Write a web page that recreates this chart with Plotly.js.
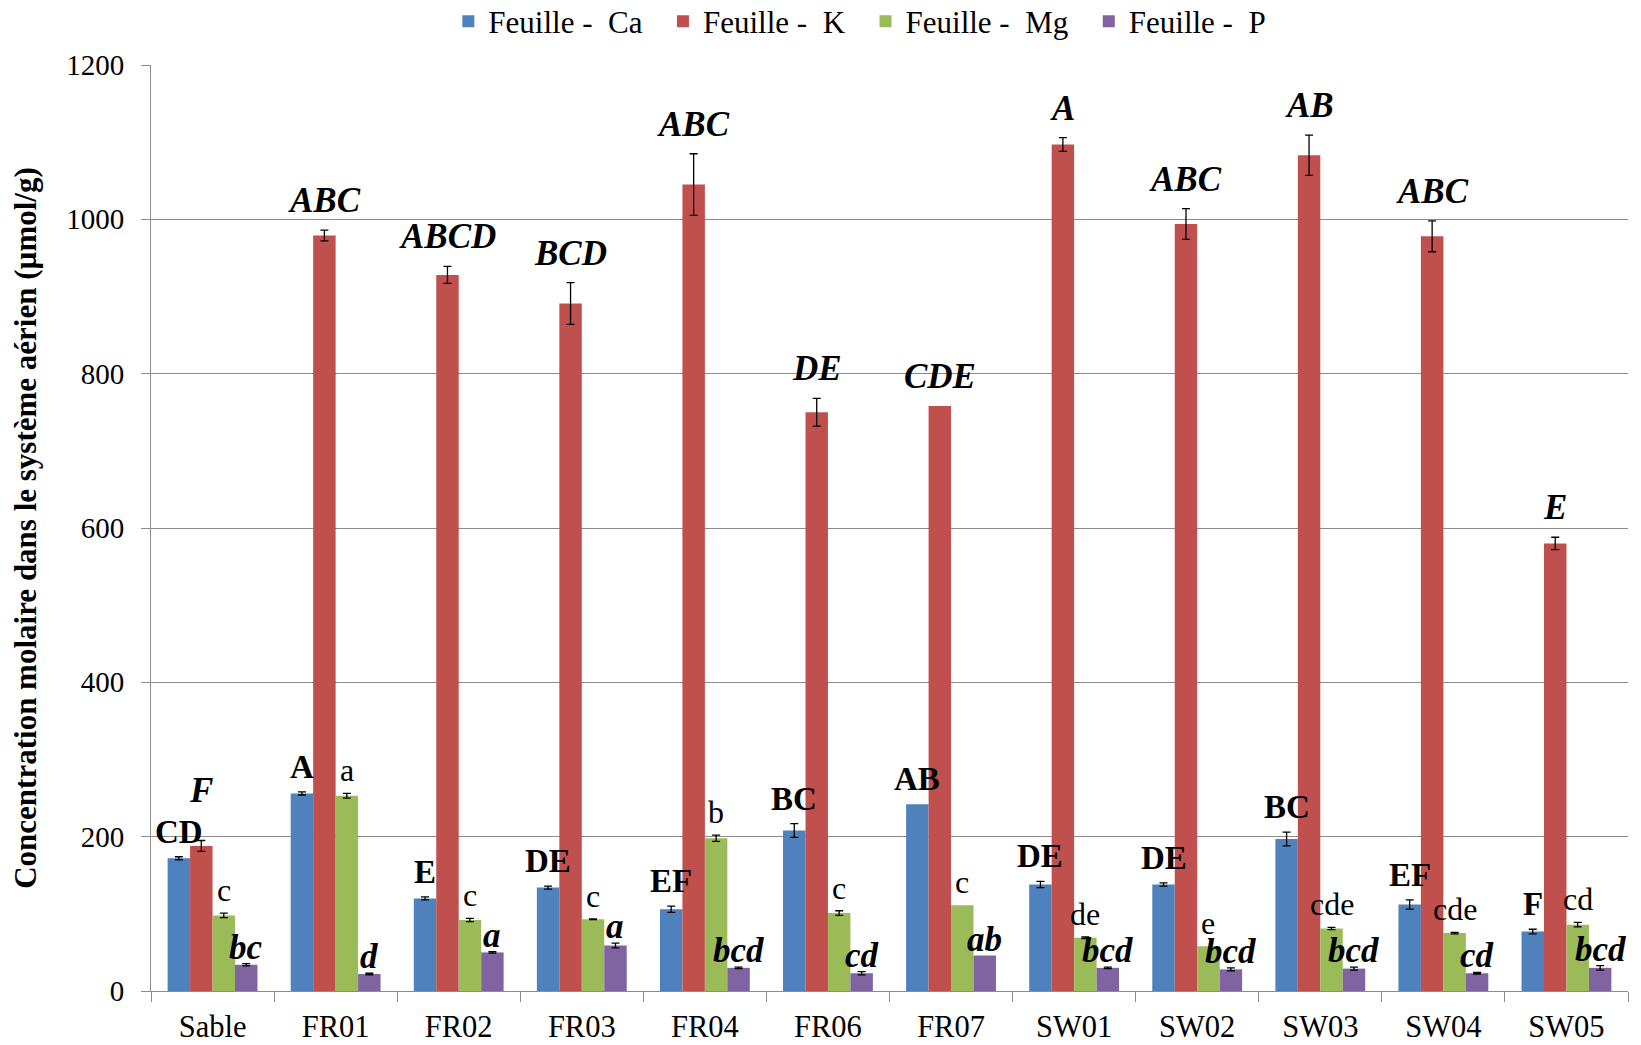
<!DOCTYPE html>
<html>
<head>
<meta charset="utf-8">
<script src="https://cdn.plot.ly/plotly-3.0.1.min.js"></script>
<style>html,body{margin:0;padding:0;background:#fff;}#chart{width:1641px;height:1045px;}</style>
</head>
<body>
<div id="chart"></div>
<script>
const categories = ['Sable','FR01','FR02','FR03','FR04','FR06','FR07','SW01','SW02','SW03','SW04','SW05'];

const caValues = [172, 256, 120, 134, 106, 208, 242, 138, 138, 197, 112, 77];
const caErrors = [2, 2, 2, 2, 4, 9, null, 4, 2, 9, 6, 3];
const caLetters = ['CD','A','E','DE','EF','BC','AB','DE','DE','BC','EF','F'];

const kValues = [188, 979, 928, 891, 1045, 750, 758, 1097, 994, 1083, 978, 580];
const kErrors = [7, 7, 11, 27, 40, 18, null, 9, 20, 26, 20, 8];
const kLetters = ['F','ABC','ABCD','BCD','ABC','DE','CDE','A','ABC','AB','ABC','E'];

const mgValues = [98, 253, 92, 93, 198, 101, 111, 69, 58, 81, 75, 86];
const mgErrors = [3, 3, 2, 0.5, 4, 3, null, 1, null, 1.5, 1, 3];
const mgLetters = ['c','a','c','c','b','c','c','de','e','cde','cde','cd'];

const pValues = [34, 22, 50, 59, 30, 23, 46, 30, 28, 29, 23, 30];
const pErrors = [1.5, 1, 1, 3, 1, 2, null, 1, 2, 2, 1, 3];
const pLetters = ['bc','d','a','a','bcd','cd','ab','bcd','bcd','bcd','cd','bcd'];

const seriesNames = ['Feuille - \u00a0Ca', 'Feuille - \u00a0K', 'Feuille - \u00a0Mg', 'Feuille - \u00a0P'];

const FONT = '"Liberation Serif", "Times New Roman", serif';
const W = 1641, H = 1045;
const M = {l: 151, r: 13, t: 65, b: 54, autoexpand: false};
const BARGAP = 0.27;
const YMAX = 1200;

const series = [
  {name: seriesNames[0], v: caValues, e: caErrors, lab: caLetters, color: '#4F81BD', wrap: s => '<b>' + s + '</b>', size: 33, dy: 5},
  {name: seriesNames[1], v: kValues, e: kErrors, lab: kLetters, color: '#C0504D', wrap: s => '<b><i>' + s + '</i></b>', size: 35, dy: 8, clearOf: 0},
  {name: seriesNames[2], v: mgValues, e: mgErrors, lab: mgLetters, color: '#9BBB59', wrap: s => s, size: 32, dy: 3},
  {name: seriesNames[3], v: pValues, e: pErrors, lab: pLetters, color: '#8064A2', wrap: s => '<b><i>' + s + '</i></b>', size: 35, dy: -5}
];

const traces = series.map(s => ({
  type: 'bar',
  name: s.name + '\u00a0\u00a0',
  x: categories,
  y: s.v,
  marker: {color: s.color, line: {width: 0}},
  error_y: {type: 'data', array: s.e.map(v => v == null ? NaN : v), visible: true, color: '#000', thickness: 1.3, width: 4}
}));

const plotW = W - M.l - M.r;
const plotH = H - M.t - M.b;
const catW = plotW / categories.length;
const barW = (1 - BARGAP) * catW / series.length;
const yPix = v => M.t + plotH * (1 - v / YMAX);

// label boxes (approximate pixel boxes) to let a label clear a neighbour it would collide with
function labelBox(s, k, i, extra) {
  const top = s.v[i] + (s.e[i] || 0);
  const bottom = yPix(top) - s.dy - (extra || 0);
  const w = s.lab[i].length * s.size * 0.62;
  const cx = (k - (series.length - 1) / 2) * barW;
  return {bottom: bottom, top: bottom - s.size * 1.2, left: cx - w / 2, right: cx + w / 2};
}

const annotations = [];
series.forEach((s, k) => {
  categories.forEach((c, i) => {
    let extra = 0;
    if (s.clearOf !== undefined) {
      const other = labelBox(series[s.clearOf], s.clearOf, i, 0);
      const mine = labelBox(s, k, i, 0);
      const hOverlap = mine.left < other.right && mine.right > other.left;
      if (hOverlap && mine.bottom > other.top) extra = mine.bottom - other.top;
    }
    annotations.push({
      xref: 'x', yref: 'y', x: c, y: s.v[i] + (s.e[i] || 0),
      text: s.wrap(s.lab[i]), showarrow: false,
      xanchor: 'center', yanchor: 'bottom',
      xshift: (k - (series.length - 1) / 2) * barW,
      yshift: s.dy + extra,
      font: {family: FONT, size: s.size, color: '#000'}
    });
  });
});

const layout = {
  width: W, height: H,
  margin: M,
  paper_bgcolor: '#fff', plot_bgcolor: '#fff',
  font: {family: FONT, color: '#000'},
  barmode: 'group', bargap: BARGAP, bargroupgap: 0,
  showlegend: true,
  legend: {orientation: 'h', x: 0.485, xanchor: 'center', y: 1.047, yanchor: 'middle',
           font: {family: FONT, size: 31, color: '#000'}, traceorder: 'normal'},
  xaxis: {
    type: 'category', showline: true, linecolor: '#8c8c8c', linewidth: 1,
    ticks: 'outside', tickson: 'boundaries', ticklen: 10, tickcolor: '#8c8c8c',
    ticklabelstandoff: 8,
    tickfont: {family: FONT, size: 30.5, color: '#000'}, showgrid: false, zeroline: false
  },
  yaxis: {
    range: [0, YMAX], tickvals: [0, 200, 400, 600, 800, 1000, 1200],
    showline: true, linecolor: '#8c8c8c', linewidth: 1,
    ticks: 'outside', ticklen: 9, tickcolor: '#8c8c8c', ticklabelstandoff: 11,
    showgrid: true, gridcolor: '#8c8c8c', gridwidth: 1, zeroline: false,
    tickfont: {family: FONT, size: 29, color: '#000'},
    title: {text: '<b>Concentration molaire dans le système aérien (µmol/g)</b>', standoff: 20,
            font: {family: FONT, size: 31, color: '#000'}}
  },
  annotations: annotations
};

Plotly.newPlot('chart', traces, layout, {displayModeBar: false, staticPlot: true});
</script>
</body>
</html>
